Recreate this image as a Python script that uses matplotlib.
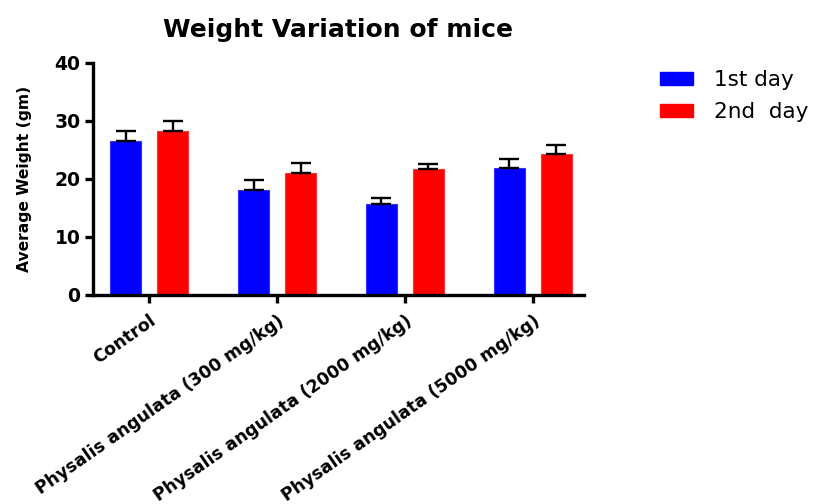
import numpy as np
import matplotlib
matplotlib.use("Agg")
import matplotlib.pyplot as plt
from matplotlib.patches import Patch

plt.rcParams['font.family'] = ['DejaVu Sans']

groups = ["Control", "Physalis angulata (300 mg/kg)",
          "Physalis angulata (2000 mg/kg)", "Physalis angulata (5000 mg/kg)"]
day1 = [26.5, 18.1, 15.7, 21.9]
day1_err = [1.7, 1.7, 1.0, 1.5]
day2 = [28.2, 21.1, 21.7, 24.3]
day2_err = [1.8, 1.6, 0.8, 1.6]

x = np.arange(len(groups))
w = 0.24
off = 0.184

fig = plt.figure(figsize=(8.19, 5.04), dpi=100)
ax = fig.add_axes([0.1136, 0.4147, 0.5994, 0.4603])

ek = dict(ecolor="black", elinewidth=1.7, capsize=7, capthick=1.7)
ax.bar(x - off, day1, w, color="#0000ff", edgecolor="#3333ff", linewidth=0.8,
       yerr=[np.zeros(4), day1_err], error_kw=ek)
ax.bar(x + off, day2, w, color="#ff0000", edgecolor="#ff3333", linewidth=0.8,
       yerr=[np.zeros(4), day2_err], error_kw=ek)

ax.set_xlim(-0.44, 3.40)
ax.set_ylim(0, 40)
ax.set_yticks([0, 10, 20, 30, 40])
ax.set_xticks(x)
ax.set_xticklabels(groups, rotation=35, ha="right", va="top", rotation_mode="anchor",
                   fontsize=12.5, fontweight="bold")
for lab in ax.get_yticklabels():
    lab.set_fontweight("bold")
    lab.set_fontsize(13.5)

for s in ["top", "right"]:
    ax.spines[s].set_visible(False)
for s in ["left", "bottom"]:
    ax.spines[s].set_linewidth(2.4)
ax.tick_params(axis="both", width=2.4, length=6, direction="out")
ax.tick_params(axis="x", pad=6)
ax.tick_params(axis="y", pad=3)

ax.set_ylabel("Average Weight (gm)", fontsize=11.2, fontweight="bold", labelpad=16)
ax.set_title("Weight Variation of mice", fontsize=18, fontweight="bold", pad=19)

handles = [Patch(color="#0000ff"), Patch(color="#ff0000")]
fig.legend(handles, ["1st day", "2nd  day"], loc="upper left",
           bbox_to_anchor=(660 / 819, 1 - 70 / 504), frameon=False, fontsize=15.5,
           borderpad=0, borderaxespad=0, handlelength=1.55, handleheight=0.55,
           handletextpad=0.95, labelspacing=0.55)

fig.savefig("out.png", dpi=100)
